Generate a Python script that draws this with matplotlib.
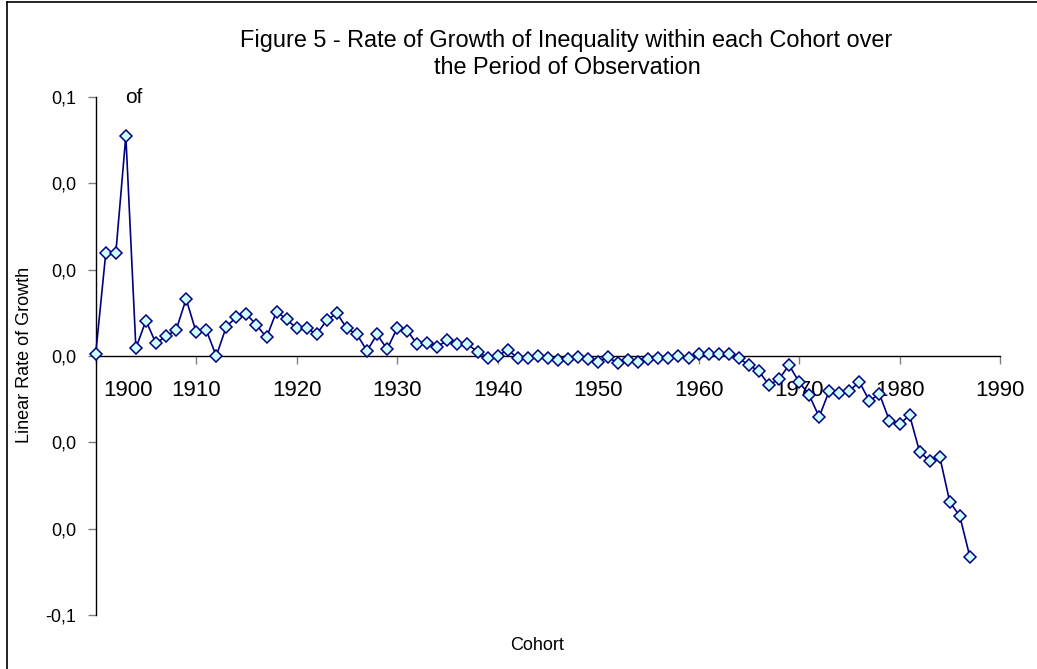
import matplotlib
matplotlib.use("Agg")
import matplotlib.pyplot as plt
import matplotlib.transforms as mtransforms
from matplotlib.lines import Line2D
from matplotlib.ticker import FuncFormatter

plt.rcParams["font.family"] = ["Liberation Sans", "DejaVu Sans"]

# cohort years and linear growth rate
years = list(range(1900, 1988))
rate = [
    0.0005, 0.0238, 0.0238, 0.0510, 0.0018, 0.0082, 0.0029, 0.0046, 0.0060, 0.0132,
    0.0055, 0.0060, 0.0000, 0.0068, 0.0090, 0.0097, 0.0072, 0.0043, 0.0103, 0.0085,
    0.0064, 0.0064, 0.0051, 0.0083, 0.0099, 0.0064, 0.0050, 0.0012, 0.0050, 0.0016,
    0.0064, 0.0059, 0.0027, 0.0031, 0.0022, 0.0036, 0.0027, 0.0027, 0.0010, -0.0004,
    0.0000, 0.0014, -0.0004, -0.0004, 0.0000, -0.0004, -0.0009, -0.0008, -0.0003, -0.0008,
    -0.0013, -0.0003, -0.0017, -0.0009, -0.0013, -0.0008, -0.0004, -0.0004, 0.0000, -0.0005,
    0.0004, 0.0004, 0.0004, 0.0004, -0.0005, -0.0021, -0.0035, -0.0067, -0.0054, -0.0021,
    -0.0060, -0.0090, -0.0141, -0.0081, -0.0085, -0.0081, -0.0060, -0.0104, -0.0088, -0.0150,
    -0.0158, -0.0137, -0.0222, -0.0243, -0.0233, -0.0338, -0.0371, -0.0465,
]
x_ticks = list(range(1900, 2000, 10))
y_ticks = [-0.06, -0.04, -0.02, 0.0, 0.02, 0.04, 0.06]


def excel_fmt(v, pos):
    s = f"{round(v, 1):.1f}"
    if s == "-0.0":
        s = "0.0"
    return s.replace(".", ",")


W, H = 1037, 669
fig = plt.figure(figsize=(W / 100, H / 100), dpi=100, facecolor="white")
ax = fig.add_axes([95.7 / W, 1 - 615 / H, (1000 - 95.7) / W, (615 - 97) / H])

ax.plot(years, rate, color="#000080", lw=1.2, marker="D", markersize=6.5,
        markerfacecolor="#CCFFFF", markeredgecolor="#000080", markeredgewidth=1.1,
        clip_on=False, zorder=3)

ax.set_xlim(1900, 1990)
ax.set_ylim(-0.06, 0.06)
ax.set_xticks(x_ticks)
ax.set_yticks(y_ticks)
ax.yaxis.set_major_formatter(FuncFormatter(excel_fmt))

ax.spines["top"].set_visible(False)
ax.spines["right"].set_visible(False)
ax.spines["bottom"].set_position(("data", 0))
ax.spines["bottom"].set_linewidth(1.0)
ax.spines["left"].set_linewidth(1.0)

ax.tick_params(axis="x", direction="out", length=6, width=1, color="#808080",
               labelsize=16, pad=11)
ax.tick_params(axis="y", direction="out", length=6, width=1, color="#808080",
               labelsize=13, pad=8)

# Excel pushes the first year label inside the plot area
first = ax.xaxis.get_major_ticks()[0].label1
first.set_horizontalalignment("left")
first.set_transform(first.get_transform()
                    + mtransforms.ScaledTranslation(8 / 100, 0, fig.dpi_scale_trans))

fig.text(566 / W, 1 - 47 / H, "Figure 5 - Rate of Growth of Inequality within each Cohort over",
         ha="center", va="baseline", fontsize=16.9)
fig.text(567 / W, 1 - 73.5 / H, "the Period of Observation",
         ha="center", va="baseline", fontsize=16.9)
fig.text(125 / W, 1 - 103 / H, "of", ha="left", va="baseline", fontsize=15)

fig.text(537 / W, 1 - 645 / H, "Cohort", ha="center", va="center", fontsize=13)
fig.text(25 / W, 1 - 355 / H, "Linear Rate of Growth", ha="center", va="center",
         rotation=90, fontsize=13)

# partial chart-area border (top and left edges)
fig.add_artist(Line2D([7 / W, 1.0], [1 - 1.5 / H, 1 - 1.5 / H], color="black", lw=1.2))
fig.add_artist(Line2D([7 / W, 7 / W], [0.0, 1 - 1.5 / H], color="black", lw=1.2))

fig.savefig("out.png", dpi=100, facecolor="white")
